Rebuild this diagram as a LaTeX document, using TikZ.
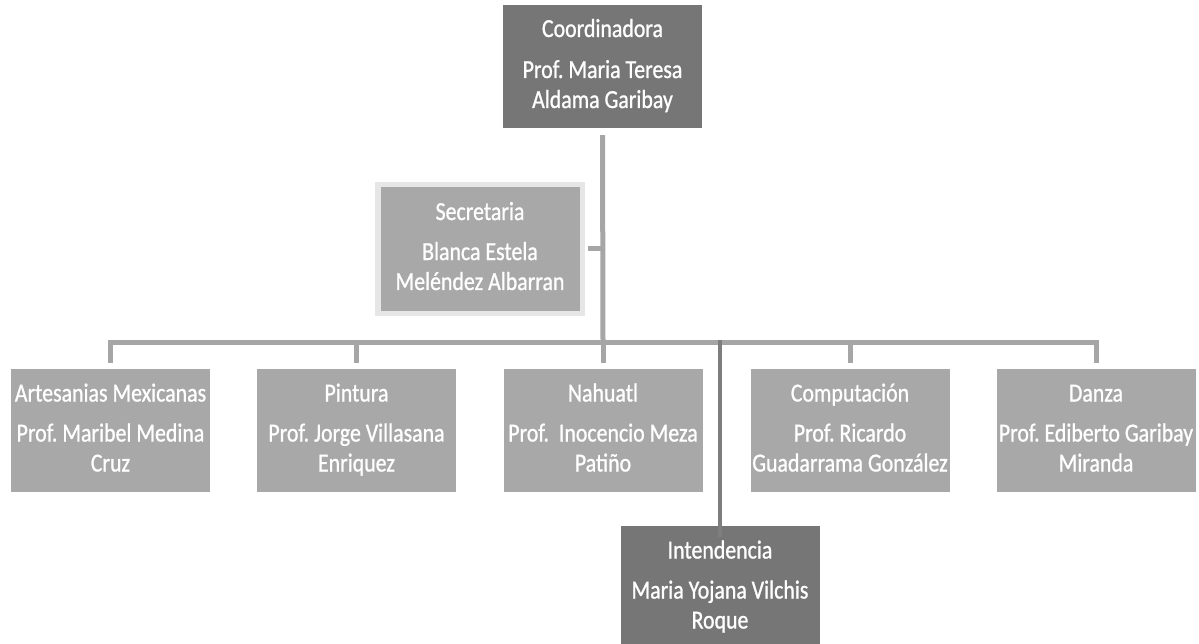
\documentclass[tikz,border=0pt]{standalone}
\usepackage{fontspec}
\setmainfont{Carlito}[FakeStretch=0.84,FakeBold=0.9]
\usepackage{xcolor}
\usepackage{tikz}
\frenchspacing

\definecolor{darkbox}{HTML}{767676}
\definecolor{lightbox}{HTML}{A8A8A8}
\definecolor{rimgray}{HTML}{E6E6E6}
\definecolor{linkgray}{HTML}{A6A6A6}
\definecolor{intgray}{HTML}{7E7E7E}

\begin{document}
\begin{tikzpicture}[x=1pt,y=-1pt,
    box/.style={fill=lightbox,text=white,align=center,inner sep=0pt,
      minimum width=199pt,minimum height=123pt,
      font=\fontsize{26}{30}\selectfont},
    boss/.style={box,fill=darkbox},
    link/.style={draw=linkgray,line width=5pt}]
             \useasboundingbox (0,0) rectangle (1199,644);

             \node[boss] (coord) at (602.5,66.5) {\strut Coordinadora\\[11pt]Prof. Maria Teresa\\Aldama Garibay\strut};
             \node[box,draw=rimgray,line width=5.5pt,minimum width=204.5pt,minimum height=128.5pt] (sec) at (480,249) {\strut Secretaria\\[10pt]Blanca Estela\\Meléndez Albarran\strut};

             \node[box] (art) at (110.5,430.5) {\strut Artesanias Mexicanas\\[10pt]Prof. Maribel Medina\\Cruz\strut};
             \node[box] (pin) at (356.5,430.5) {\strut Pintura\\[10pt]Prof. Jorge Villasana\\Enriquez\strut};
             \node[box] (nah) at (603,430.5) {\strut Nahuatl\\[10pt]Prof.\ \ Inocencio Meza\\Patiño\strut};
             \node[box] (com) at (850,430.5) {\strut Computación\\[10pt]Prof. Ricardo\\Guadarrama González\strut};
             \node[box] (dan) at (1096,430.5) {\strut Danza\\[10pt]Prof. Ediberto Garibay\\Miranda\strut};

             \node[boss] (int) at (720,587.5) {\strut Intendencia\\[10pt]Maria Yojana Vilchis\\Roque\strut};

             \coordinate (bus) at (603,342);
             \draw[link,shorten <=7pt] (coord.south) -- (bus);
             \draw[link] ([xshift=2.75pt]sec.east) -- (sec.east -| bus);
             \draw[link] ([xshift=-2.5pt]art.north |- bus) -- ([xshift=2.5pt]dan.north |- bus);
             \foreach \n in {art,pin,nah,com,dan}
               \draw[link] (\n.north |- bus) -- ([yshift=6pt]\n.north);
             \draw[draw=intgray,line width=4pt] ([yshift=2pt]int.north |- bus) -- ([yshift=-11pt]int.north);
             \end{tikzpicture}
\end{document}
